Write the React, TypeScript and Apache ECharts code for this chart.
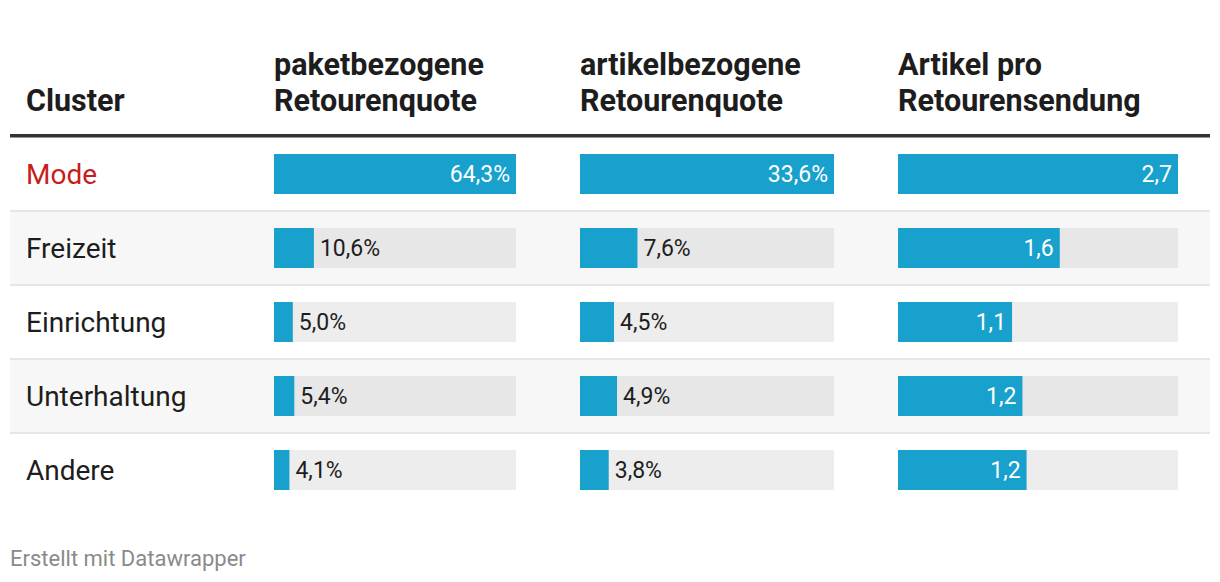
import React, { useEffect, useRef } from 'react';
import * as echarts from 'echarts';

// ---- Data ----
const clusters = ['Mode', 'Freizeit', 'Einrichtung', 'Unterhaltung', 'Andere'];
const paketbezogeneQuote = [64.3, 10.6, 5.0, 5.4, 4.1];
const artikelbezogeneQuote = [33.6, 7.6, 4.5, 4.9, 3.8];
const artikelProSendung = [2.7, 1.56, 1.1, 1.2, 1.24];
const headerLabel = ['Cluster'];
const headerPaket = ['paketbezogene', 'Retourenquote'];
const headerArtikel = ['artikelbezogene', 'Retourenquote'];
const headerProSendung = ['Artikel pro', 'Retourensendung'];
const highlightedCluster = 'Mode';
const footerText = 'Erstellt mit Datawrapper';

// ---- Layout / style ----
const W = 1220;
const H = 582;
const TABLE_LEFT = 10;
const TABLE_W = 1200;
const ROW_TOP = 137;
const ROW_H = 74;
const LABEL_X = 26;
const BAR_COLOR = '#18a1cd';
const TEXT = '#1d1d1d';
const RED = '#c71e1d';
const FONT = 'Roboto';

const columns = [
  { left: 274, width: 242, data: paketbezogeneQuote, suffix: '%', header: headerPaket },
  { left: 580, width: 254, data: artikelbezogeneQuote, suffix: '%', header: headerArtikel },
  { left: 898, width: 280, data: artikelProSendung, suffix: '', header: headerProSendung },
];

const fmt = (v: number) => v.toFixed(1).replace('.', ',');

export default function App() {
  const ref = useRef<HTMLDivElement>(null);

  useEffect(() => {
    document.body.style.margin = '0';
    if (!ref.current) return;
    const chart = echarts.init(ref.current, undefined, { renderer: 'svg' });

    const grids: any[] = [];
    const xAxes: any[] = [];
    const yAxes: any[] = [];
    const series: any[] = [];

    columns.forEach((col, ci) => {
      const max = Math.max(...col.data);
      grids.push({ left: col.left, top: ROW_TOP, width: col.width, height: ROW_H * clusters.length, containLabel: false });
      xAxes.push({ type: 'value', gridIndex: ci, min: 0, max, show: false });
      yAxes.push({
        type: 'category',
        gridIndex: ci,
        data: clusters,
        inverse: true,
        show: ci === 0,
        axisLine: { show: false },
        axisTick: { show: false },
        splitLine: { show: false },
        axisLabel: {
          show: ci === 0,
          margin: col.left - LABEL_X,
          align: 'left',
          fontSize: 28,
          fontFamily: FONT,
          color: TEXT,
          formatter: (v: string) => (v === highlightedCluster ? `{hl|${v}}` : v),
          rich: { hl: { color: RED, fontSize: 28, fontFamily: FONT } },
        },
      });
      series.push({
        type: 'bar',
        xAxisIndex: ci,
        yAxisIndex: ci,
        barWidth: 40,
        silent: true,
        data: col.data.map((_, i) => ({
          value: max,
          itemStyle: { color: i % 2 === 1 ? '#e7e7e7' : '#ededed' },
        })),
      });
      series.push({
        type: 'bar',
        xAxisIndex: ci,
        yAxisIndex: ci,
        barWidth: 40,
        barGap: '-100%',
        itemStyle: { color: BAR_COLOR },
        label: {
          show: true,
          fontSize: 23,
          fontFamily: FONT,
          formatter: (p: any) => fmt(p.value) + col.suffix,
        },
        data: col.data.map((v) => {
          const inside = v / max >= 0.3;
          return {
            value: v,
            label: {
              position: inside ? 'insideRight' : 'right',
              color: inside ? '#ffffff' : TEXT,
              distance: 6,
            },
          };
        }),
      });
    });

    const graphics: any[] = [];
    // shaded rows
    clusters.forEach((_, i) => {
      if (i % 2 === 1) {
        graphics.push({
          type: 'rect',
          shape: { x: TABLE_LEFT, y: ROW_TOP + i * ROW_H, width: TABLE_W, height: ROW_H },
          style: { fill: '#f7f7f7' },
          z: -10,
        });
      }
    });
    // separators
    for (let i = 1; i < clusters.length; i++) {
      graphics.push({
        type: 'rect',
        shape: { x: TABLE_LEFT, y: ROW_TOP + i * ROW_H - 1, width: TABLE_W, height: 2 },
        style: { fill: '#e6e6e6' },
        z: -5,
      });
    }
    // header rule
    graphics.push({
      type: 'rect',
      shape: { x: TABLE_LEFT, y: 134, width: TABLE_W, height: 3.5 },
      style: { fill: '#333333' },
    });
    const headerText = (text: string, x: number, y: number) => ({
      type: 'text',
      x,
      y,
      style: {
        text,
        font: `bold 30.5px ${FONT}`,
        fill: TEXT,
        align: 'left',
        verticalAlign: 'middle',
        textAlign: 'left',
        textVerticalAlign: 'middle',
      },
    });
    graphics.push(headerText(headerLabel[0], LABEL_X, 100));
    columns.forEach((col) => {
      graphics.push(headerText(col.header[0], col.left, 64));
      graphics.push(headerText(col.header[1], col.left, 100));
    });
    graphics.push({
      type: 'text',
      x: TABLE_LEFT,
      y: 558,
      style: {
        text: footerText,
        font: `22px ${FONT}`,
        fill: '#8a8a8a',
        align: 'left',
        verticalAlign: 'middle',
        textAlign: 'left',
        textVerticalAlign: 'middle',
      },
    });

    chart.setOption({
      animation: false,
      backgroundColor: '#ffffff',
      textStyle: { fontFamily: FONT },
      grid: grids,
      xAxis: xAxes,
      yAxis: yAxes,
      series,
      graphic: graphics,
    });

    return () => chart.dispose();
  }, []);

  return <div ref={ref} style={{ width: W, height: H }} />;
}
